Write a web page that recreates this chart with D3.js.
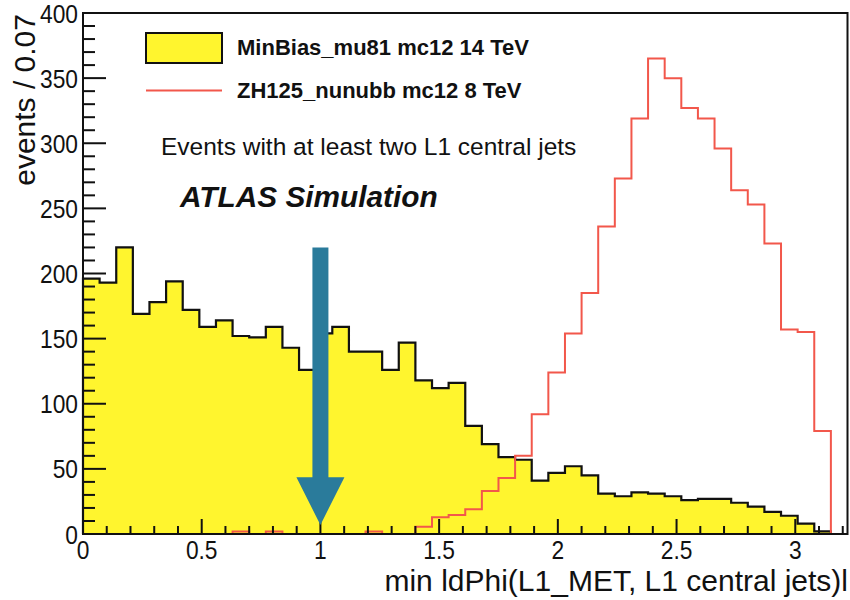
<!DOCTYPE html>
<html>
<head>
<meta charset="utf-8">
<script src="https://cdn.jsdelivr.net/npm/d3@7"></script>
<style>
  html, body { margin: 0; padding: 0; background: #fff; }
  svg text { font-family: "Liberation Sans", Arial, Helvetica, sans-serif; fill: #111; }
</style>
</head>
<body>
<svg id="chart" width="850" height="600"></svg>
<script>
// ---------------- data ----------------
const binWidth = 0.07;
const xDomain = [0, 3.22];
const yDomain = [0, 400];
// MinBias_mu81 mc12 14 TeV (events per bin)
const minBiasValues = [196, 193, 220, 169, 178, 194, 172, 159, 164, 152, 151, 159, 143, 126, 154, 159,
  140, 140, 126, 147, 118, 112, 116, 83, 69, 59, 57, 41, 47, 52, 45, 31, 29, 32, 31, 29,
  26, 27, 27, 24, 21, 17, 14, 8, 2, 0];
// ZH125_nunubb mc12 8 TeV (events per bin)
const zhValues = [0, 0, 0, 0, 0, 0, 0, 0, 0, 2, 0, 2, 0, 0, 0, 0,
  0, 2, 0, 0, 5.6, 12.8, 14.6, 19, 33, 43, 60, 92, 124, 154, 185, 236, 273, 319, 365, 350,
  327, 319, 296, 264, 253, 223, 157, 155, 79, 0];
const xTickLabels = ["0", "0.5", "1", "1.5", "2", "2.5", "3"];
const xTickValues = [0, 0.5, 1, 1.5, 2, 2.5, 3];
const yTickValues = [0, 50, 100, 150, 200, 250, 300, 350, 400];
const legendLabels = ["MinBias_mu81 mc12 14 TeV", "ZH125_nunubb mc12 8 TeV"];
const noteText = "Events with at least two L1 central jets";
const atlasText = "ATLAS Simulation";
const xTitle = "min ldPhi(L1_MET, L1 central jets)l";
const yTitle = "events / 0.07";
// arrow annotation (x value, top value, head-base value, tip value)
const arrowX = 1.0, arrowTop = 220, arrowHeadBase = 43.5, arrowTip = 7;

// ---------------- layout ----------------
const L = 83, R = 847.5, T = 13, B = 534;
const svg = d3.select("#chart");
const x = d3.scaleLinear().domain(xDomain).range([L, R]);
const y = d3.scaleLinear().domain(yDomain).range([B, T]);

const COL_YELLOW = "#fff52e";
const COL_RED = "#f2574b";
const COL_BLUE = "#2a7b9b";

function stepPoints(vals) {
  const pts = [[x(0), y(0)]];
  vals.forEach((v, i) => {
    pts.push([x(i * binWidth), y(v)]);
    pts.push([x((i + 1) * binWidth), y(v)]);
  });
  pts.push([x(vals.length * binWidth), y(0)]);
  return pts;
}
const line = d3.line();

// yellow filled histogram
svg.append("path")
  .attr("d", line(stepPoints(minBiasValues)) + "Z")
  .attr("fill", COL_YELLOW).attr("stroke", "none");
svg.append("path")
  .attr("d", line(stepPoints(minBiasValues)))
  .attr("fill", "none").attr("stroke", "#111").attr("stroke-width", 2.2)
  .attr("stroke-linejoin", "miter");

// red histogram
svg.append("path")
  .attr("d", line(stepPoints(zhValues)))
  .attr("fill", "none").attr("stroke", COL_RED).attr("stroke-width", 2);

// axes ticks
const g = svg.append("g");
const yMinor = d3.range(0, 401, 10);
g.selectAll(".ytick").data(yMinor).enter().append("line")
  .attr("x1", L).attr("x2", d => L + (d % 50 === 0 ? 23 : 12))
  .attr("y1", d => y(d)).attr("y2", d => y(d))
  .attr("stroke", "#111").attr("stroke-width", 2);
const xMinor = d3.range(0, 32.1, 1).map(d => d / 10);
g.selectAll(".xtick").data(xMinor).enter().append("line")
  .attr("y1", B).attr("y2", (d, i) => B - (i % 5 === 0 ? 15 : 8))
  .attr("x1", d => x(d)).attr("x2", d => x(d))
  .attr("stroke", "#111").attr("stroke-width", 2);

// frame
svg.append("rect").attr("x", L).attr("y", T).attr("width", R - L).attr("height", B - T)
  .attr("fill", "none").attr("stroke", "#111").attr("stroke-width", 2);

// tick labels
function sText(sel, tx, ty, str, size, sx, anchor, weight, style) {
  return sel.append("text")
    .attr("transform", `translate(${tx},${ty}) scale(${sx},1)`)
    .attr("text-anchor", anchor)
    .attr("font-size", size)
    .attr("font-weight", weight || "normal")
    .attr("font-style", style || "normal")
    .text(str);
}
yTickValues.forEach(v => sText(svg, 78, y(v) + 9.5, String(v), 26.5, 0.86, "end"));
xTickValues.forEach((v, i) => sText(svg, x(v), 559, xTickLabels[i], 26.5, 0.86, "middle"));

// axis titles
sText(svg, 848, 591, xTitle, 30, 1, "end");
svg.append("text")
  .attr("transform", "translate(35,14) rotate(-90)")
  .attr("text-anchor", "end").attr("font-size", 30).text(yTitle);

// legend
svg.append("rect").attr("x", 146).attr("y", 33).attr("width", 76).attr("height", 30)
  .attr("fill", COL_YELLOW).attr("stroke", "#111").attr("stroke-width", 2);
svg.append("line").attr("x1", 146).attr("x2", 222).attr("y1", 90.5).attr("y2", 90.5)
  .attr("stroke", COL_RED).attr("stroke-width", 2);
sText(svg, 237, 55, legendLabels[0], 22, 1, "start", "bold");
sText(svg, 237, 98, legendLabels[1], 22, 1, "start", "bold");
sText(svg, 161, 155, noteText, 24.5, 1, "start");
sText(svg, 180, 207, atlasText, 29.8, 1, "start", "bold", "italic");

// arrow
const ax = x(arrowX);
const shaftHalf = 8, headHalf = 24;
svg.append("path")
  .attr("d", d3.line()([
    [ax - shaftHalf, y(arrowTop)], [ax + shaftHalf, y(arrowTop)],
    [ax + shaftHalf, y(arrowHeadBase)], [ax + headHalf, y(arrowHeadBase)],
    [ax, y(arrowTip)], [ax - headHalf, y(arrowHeadBase)],
    [ax - shaftHalf, y(arrowHeadBase)]
  ]) + "Z")
  .attr("fill", COL_BLUE);
</script>
</body>
</html>
